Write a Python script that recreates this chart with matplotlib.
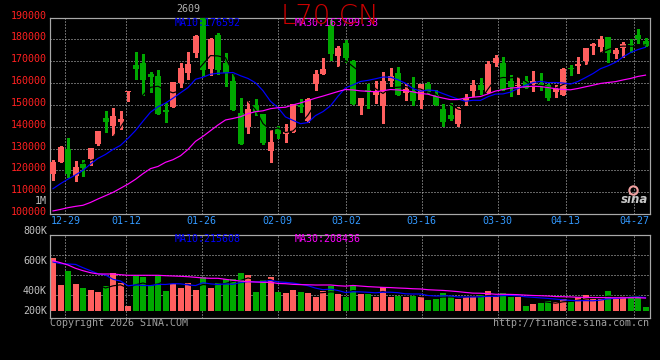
import numpy as np
import matplotlib
matplotlib.use("Agg")
import matplotlib.pyplot as plt
from matplotlib import transforms

# ---------------- data (prices in thousands, volumes in K) ----------------
date_labels = ["12-29", "01-12", "01-26", "02-09", "03-02", "03-16", "03-30", "04-13", "04-27"]
date_idx = [2, 10, 20, 30, 39, 49, 59, 68, 77]

opens = [118.5, 124.0, 129.9, 117.3, 123.1, 125.0, 132.1, 144.0, 140.5, 142.0,
         156.0, 168.2, 169.2, 164.1, 163.2, 147.6, 149.2, 160.0, 164.7, 174.0,
         190.0, 166.4, 182.0, 169.0, 160.9, 146.1, 140.0, 150.0, 145.8, 129.0,
         138.9, 136.8, 137.7, 150.0, 142.6, 159.5, 164.1, 186.6, 172.5, 178.6,
         169.9, 149.6, 156.8, 154.5, 149.6, 161.1, 164.6, 155.4, 156.5, 152.2,
         159.5, 154.5, 148.1, 145.3, 141.2, 151.8, 156.3, 159.1, 155.6, 169.3,
         169.3, 160.9, 158.5, 160.9, 159.5, 159.8, 159.1, 155.7, 154.5, 167.0,
         167.8, 170.1, 177.1, 176.5, 181.1, 173.3, 175.9, 177.9, 182.0, 179.4]
highs = [124.7, 131.1, 134.7, 124.3, 124.6, 130.4, 138.2, 147.0, 148.5, 147.0,
         156.5, 174.4, 173.3, 165.0, 166.0, 150.7, 160.5, 169.0, 174.2, 182.0,
         191.0, 180.8, 183.1, 173.9, 164.3, 153.1, 151.8, 152.8, 145.8, 138.5,
         140.3, 141.2, 150.4, 152.6, 153.1, 166.0, 171.3, 188.8, 176.9, 179.7,
         170.5, 153.1, 159.8, 160.9, 165.0, 166.9, 167.3, 159.4, 162.7, 159.5,
         160.6, 156.8, 150.2, 151.1, 149.2, 155.0, 161.4, 162.4, 169.9, 172.8,
         172.1, 163.7, 162.7, 163.2, 165.5, 164.6, 159.5, 159.1, 166.9, 168.2,
         171.8, 176.0, 178.2, 181.5, 181.1, 176.3, 178.9, 180.2, 184.7, 180.5]
lows = [115.6, 123.8, 117.1, 115.3, 117.5, 122.4, 131.6, 137.6, 136.2, 139.0,
        151.9, 161.7, 154.7, 155.7, 146.0, 142.0, 149.2, 158.0, 162.0, 172.1,
        163.7, 163.7, 164.1, 158.6, 147.6, 132.1, 137.3, 145.3, 132.1, 124.0,
        134.7, 133.1, 137.7, 146.7, 142.0, 156.9, 164.1, 170.7, 167.9, 169.5,
        150.4, 145.8, 148.7, 150.8, 141.8, 158.8, 154.5, 152.2, 149.9, 148.7,
        155.3, 150.0, 140.2, 142.9, 140.2, 150.0, 154.0, 155.0, 155.3, 167.9,
        156.8, 154.0, 155.0, 157.9, 156.3, 156.8, 152.2, 153.7, 154.5, 163.7,
        164.7, 168.7, 173.3, 174.2, 169.5, 171.6, 172.1, 174.4, 178.2, 177.1]
closes = [124.0, 130.8, 118.5, 121.5, 121.2, 130.1, 138.0, 142.1, 144.9, 143.5,
          156.3, 166.4, 161.5, 162.7, 146.0, 146.9, 160.5, 166.9, 168.7, 181.5,
          166.0, 180.0, 166.0, 164.4, 147.6, 132.1, 148.1, 146.9, 132.4, 133.0,
          136.8, 137.6, 150.4, 149.0, 152.8, 164.1, 166.4, 173.3, 176.2, 171.6,
          150.4, 153.1, 155.7, 156.2, 160.9, 163.2, 154.5, 157.3, 151.9, 159.5,
          156.0, 150.0, 142.3, 143.5, 148.7, 153.0, 159.1, 156.8, 168.7, 171.5,
          156.8, 158.3, 159.2, 157.9, 160.9, 158.9, 153.3, 157.3, 166.4, 166.6,
          168.7, 176.0, 177.7, 180.2, 174.0, 175.0, 177.9, 177.4, 180.2, 177.1]
volumes = [524, 257, 397, 267, 227, 207, 187, 247, 374, 280,
           47, 347, 337, 257, 350, 197, 267, 227, 277, 207,
           334, 227, 277, 314, 314, 377, 357, 187, 307, 337,
           187, 177, 207, 187, 177, 137, 197, 247, 167, 137,
           257, 167, 167, 137, 237, 137, 147, 137, 147, 137,
           107, 117, 177, 147, 117, 137, 147, 157, 197, 137,
           177, 137, 137, 47, 67, 77, 97, 87, 117, 87,
           137, 157, 117, 117, 197, 117, 147, 147, 147, 37]

# moving-average values before enough in-window history exists
ma10_head = [111.6, 113.9, 116.0, 117.9, 120.0, 122.9, 125.5, 127.3, 129.6]
ma30_head = [101.4, 102.1, 102.9, 103.5, 104.0, 105.3, 106.9, 108.4, 109.9, 111.8,
             113.7, 115.9, 118.5, 120.8, 121.8, 123.7, 124.9, 126.7, 129.6, 133.3,
             135.6, 138.2, 140.8, 143.1, 143.8, 144.6, 146.0, 146.9, 147.3]
vma10_head = [487, 470, 467, 463, 430, 400, 370, 357, 314]
vma30_head = [500, 480, 457, 424, 400, 380, 367, 367, 367, 360,
              354, 354, 354, 354, 354, 350, 347, 344, 340, 334,
              327, 324, 324, 314, 304, 297, 290, 287, 284]

price_levels = [100000, 110000, 120000, 130000, 140000, 150000, 160000, 170000, 180000, 190000]
vol_labels = ["800K", "600K", "400K", "200K"]

title = "L70.CN"
price_legend = ["MA10:176592", "MA30:163799.38"]
vol_legend = ["MA10:215608", "MA30:208436"]


def moving_avg(vals, n, head):
    vals = np.asarray(vals, float)
    out = np.full(len(vals), np.nan)
    out[:len(head)] = head
    for i in range(n - 1, len(vals)):
        out[i] = vals[i - n + 1:i + 1].mean()
    return out


o = np.array(opens) * 1000
h = np.array(highs) * 1000
l = np.array(lows) * 1000
c = np.array(closes) * 1000
v = np.array(volumes, float)
x = np.arange(len(c))

ma5 = moving_avg(c, 5, [])
ma10 = moving_avg(c, 10, np.array(ma10_head) * 1000)
ma30 = moving_avg(c, 30, np.array(ma30_head) * 1000)
vma5 = moving_avg(v, 5, [])
vma10 = moving_avg(v, 10, vma10_head)
vma30 = moving_avg(v, 30, vma30_head)

RED = "#ff5f5f"
GREEN = "#00a800"
up = c >= o
colors = np.where(up, RED, GREEN)

W, H = 660, 360
fig = plt.figure(figsize=(6.6, 3.6), dpi=100, facecolor="black")
ax = fig.add_axes([50 / W, (H - 214) / H, 600 / W, (214 - 18.3) / H], facecolor="black")
axv = fig.add_axes([50 / W, (H - 318.3) / H, 600 / W, (318.3 - 234.7) / H], facecolor="black")

PX = 72 / 100  # one pixel in points
BORDER = "#a8a8a8"
GRID = "#c8c8c8"
dot = (0, (1, 2))

tick_x = np.array(date_idx) + 0.0111 * (np.array(date_idx) - 2) - 0.36

for a in (ax, axv):
    a.set_xlim(-0.4, len(c) - 0.4)
    a.set_xticks([])
    a.set_yticks([])
    for s in a.spines.values():
        s.set_color(BORDER)
        s.set_linewidth(PX * 1.2)
    for tx in tick_x:
        a.axvline(tx, color=GRID, lw=PX, ls=dot, zorder=0.5)

ax.set_ylim(100000, 189700)
for lev in price_levels:
    if 100000 < lev < 189000:
        ax.axhline(lev, color=GRID, lw=PX, ls=dot, zorder=0.5)

# candles
ax.vlines(x, l, h, colors=colors, lw=PX * 1.2, zorder=2, antialiased=False)
body_bottom = np.minimum(o, c)
body_h = np.maximum(np.abs(c - o), 300)
ax.bar(x, body_h, bottom=body_bottom, width=0.8, color=colors, zorder=3,
       linewidth=0, antialiased=False)

ax.plot(x, ma5, color="black", lw=PX * 1.2, zorder=4)
ax.plot(x, ma10, color="#0000ff", lw=PX * 1.2, zorder=4)
ax.plot(x, ma30, color="#ff00ff", lw=PX * 1.2, zorder=4)

# volume panel
axv.set_ylim(-76, 760)
for f in (0.275, 0.514, 0.754):
    axv.plot([0, 1], [f, f], transform=axv.transAxes, color=GRID, lw=PX, ls=dot, zorder=0.5)
axv.bar(x, v, width=0.8, color=colors, zorder=2, linewidth=0, antialiased=False)
axv.plot(x, vma5, color="black", lw=PX * 1.2, zorder=4)
axv.plot(x, vma10, color="#0000ff", lw=PX * 1.2, zorder=4)
axv.plot(x, vma30, color="#ff00ff", lw=PX * 1.2, zorder=4)

MONO = "DejaVu Sans Mono"
FS = 7.2

# price labels
ytrans = transforms.blended_transform_factory(fig.transFigure, ax.transData)
ytrans = transforms.offset_copy(ytrans, fig=fig, y=2, units="dots")
for lev in price_levels:
    ax.text(47 / W, lev, str(lev), transform=ytrans, ha="right", va="center",
            color="#ff2020", fontsize=FS, family=MONO, clip_on=False)
fig.text(47 / W, (H - 200.7) / H, "1M", ha="right", va="center", color="#c0c0c0",
         fontsize=FS, family=MONO)

# date labels
xtrans = transforms.blended_transform_factory(ax.transData, fig.transFigure)
for tx, lab in zip(tick_x, date_labels):
    ax.text(tx, (H - 221) / H, lab, transform=xtrans, ha="center", va="center",
            color="#3399ff", fontsize=FS, family=MONO, clip_on=False)

# volume labels
for lab, ypix in zip(vol_labels, [231, 261, 291, 310.7]):
    fig.text(47 / W, (H - ypix) / H, lab, ha="right", va="center", color="#c0c0c0",
             fontsize=FS, family=MONO)

# legends
fig.text(175 / W, (H - 23) / H, price_legend[0], color="#0000ff", fontsize=FS, family=MONO,
         ha="left", va="center", zorder=6)
fig.text(295 / W, (H - 23) / H, price_legend[1], color="#ff00ff", fontsize=FS, family=MONO,
         ha="left", va="center", zorder=6)
fig.text(175 / W, (H - 238.8) / H, vol_legend[0], color="#0000ff", fontsize=FS, family=MONO,
         ha="left", va="center", zorder=6)
fig.text(295 / W, (H - 238.8) / H, vol_legend[1], color="#ff00ff", fontsize=FS, family=MONO,
         ha="left", va="center", zorder=6)

fig.text(188 / W, (H - 9.5) / H, "2609", color="#b0b0b0", fontsize=FS, family=MONO,
         ha="center", va="center")

# title
fig.text(329.7 / W, (H - 16.3) / H, title, color="#cc0000", fontsize=19.7,
         family="DejaVu Sans", fontweight="light", ha="center", va="center", zorder=7)

# footer
fig.text(50 / W, (H - 323) / H, "Copyright 2026 SINA.COM", color="#a0a0a0", fontsize=FS,
         family=MONO, ha="left", va="center")
fig.text(649 / W, (H - 323.5) / H, "http://finance.sina.com.cn", color="#a0a0a0",
         fontsize=FS, family=MONO, ha="right", va="center")

# sina logo
ax.text(0.975, 0.075, "sina", transform=ax.transAxes, color="#c8c8c8", fontsize=8.5,
        fontweight="bold", style="italic", ha="center", va="center", zorder=6)
ax.plot([0.972], [0.125], transform=ax.transAxes, marker="o", ms=6, mfc="none",
        mec="#f0a0a0", mew=1.5, zorder=6)

fig.savefig("out.png", dpi=100, facecolor="black")
